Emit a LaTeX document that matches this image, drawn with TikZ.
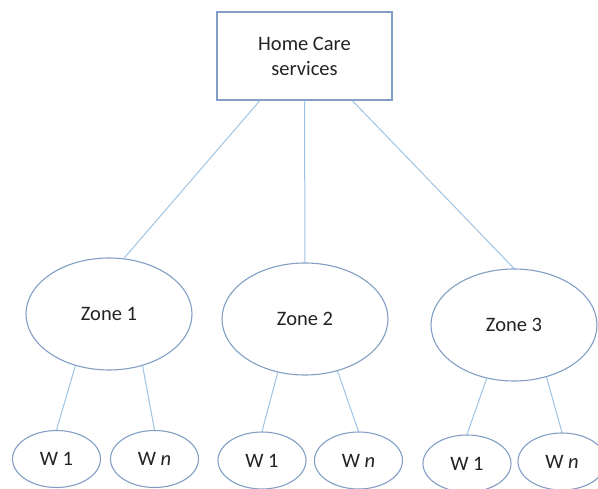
\documentclass[tikz,border=0pt]{standalone}
\usepackage{fontspec}
\setmainfont{Carlito}
\usetikzlibrary{shapes.geometric}
\definecolor{linkcol}{RGB}{160,195,228}
\definecolor{shapecol}{RGB}{130,158,196}
\definecolor{txtcol}{RGB}{35,35,35}
\tikzset{
  every node/.style={text=txtcol,font=\fontsize{20.5pt}{25pt}\selectfont},
  topbox/.style={draw=shapecol,line width=1.2pt,rectangle,minimum width=175pt,minimum height=88pt,inner sep=0pt,align=center},
  zone/.style={draw=shapecol,line width=1.1pt,ellipse,minimum width=166pt,minimum height=112pt,inner sep=0pt},
  worker/.style={draw=shapecol,line width=1.1pt,ellipse,minimum width=88pt,minimum height=57pt,inner sep=0pt},
  link/.style={draw=linkcol,line width=1pt}
}
\begin{document}
\begin{tikzpicture}[x=1pt,y=-1pt]
\useasboundingbox (0,0) rectangle (598,489);
\node[topbox] (hc) at (304.5,56) {Home Care\\services};
\node[zone] (z1) at (109,314) {Zone 1};
\node[zone] (z2) at (305,319) {Zone 2};
\node[zone] (z3) at (514,325) {Zone 3};
\node[worker] (w11) at (56.5,459) {W 1};
\node[worker] (w1n) at (154.5,459) {W \textit{n}};
\node[worker] (w21) at (262,460.5) {W 1};
\node[worker] (w2n) at (358.5,460.5) {W \textit{n}};
\node[worker] (w31) at (467,463.5) {W 1};
\node[worker] (w3n) at (562,461.5) {W \textit{n}};
\draw[link] (hc.225) -- (z1.75);
\draw[link] (hc.south) -- (z2.north);
\draw[link] (hc.-43) -- (z3.north);
\draw[link] (z1.237) -- (w11.north);
\draw[link] (z1.303) -- (w1n.north);
\draw[link] (z2.243) -- (w21.north);
\draw[link] (z2.302) -- (w2n.north);
\draw[link] (z3.243) -- (w31.north);
\draw[link] (z3.302) -- (w3n.north);
\end{tikzpicture}
\end{document}
